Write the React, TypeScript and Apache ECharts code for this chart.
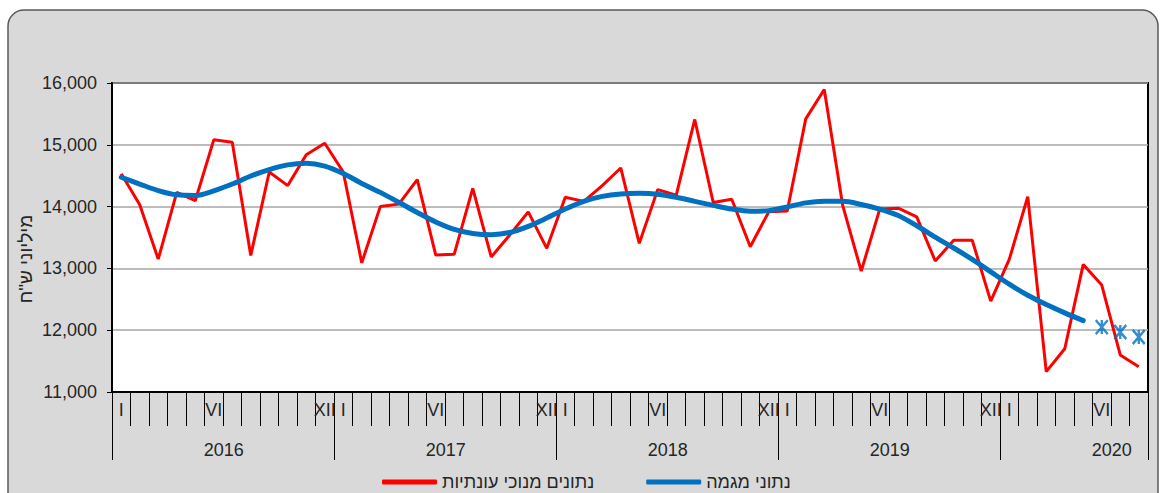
import React, { useEffect, useRef } from "react";
import * as echarts from "echarts";

const years = ["2016", "2017", "2018", "2019", "2020"];
const romanMonths = ["I", "", "", "", "", "VI", "", "", "", "", "", "XII"];
const monthsInLastYear = 8;

// seasonally adjusted data (Jan 2016 – Aug 2020), NIS millions
const seasonallyAdjusted = [
  14530, 14030, 13150, 14230, 14095, 15080, 15040, 13210, 14560, 14340, 14840, 15025,
  14560, 13090, 14000, 14040, 14435, 13215, 13230, 14295, 13185, 13540, 13915, 13325,
  14150, 14085, 14340, 14625, 13405, 14275, 14185, 15410, 14065, 14120, 13350, 13915,
  13930, 15420, 15895, 14015, 12955, 13960, 13975, 13835, 13120, 13455, 13455, 12470,
  13145, 14160, 11330, 11700, 13065, 12730, 11600, 11410,
];

// trend data (Jan 2016 – May 2020)
const trend = [
  14475, 14365, 14260, 14190, 14180, 14255, 14365, 14495, 14600, 14675, 14700, 14655,
  14535, 14375, 14230, 14070, 13905, 13750, 13630, 13565, 13545, 13580, 13680, 13815,
  13960, 14085, 14165, 14205, 14215, 14200, 14150, 14085, 14020, 13960, 13925, 13935,
  13995, 14060, 14085, 14085, 14035, 13960, 13855, 13690, 13505, 13330, 13145, 12945,
  12745, 12565, 12415, 12280, 12155,
];

// preliminary trend (Jun – Aug 2020)
const prelimMonths = ["2020-06", "2020-07", "2020-08"];
const prelimTrend = [12050, 11970, 11890];

const seriesNames = ["נתונים מנוכי עונתיות", "נתוני מגמה"];
const yAxisTitle = "מיליוני ש\"ח";

const categories: string[] = [];
years.forEach((y, yi) => {
  const n = yi === years.length - 1 ? monthsInLastYear : 12;
  for (let m = 0; m < n; m++) categories.push(`${y}-${String(m + 1).padStart(2, "0")}`);
});

const FONT = "'Liberation Sans', Arial, sans-serif";
const TEXT = "#262626";

export default function App() {
  const ref = useRef<HTMLDivElement>(null);
  useEffect(() => {
    if (!ref.current) return;
    const chart = echarts.init(ref.current, undefined, { renderer: "svg" });
    const asterisk = "path://M0 0L12 14M12 0L0 14M6 0L6 14";
    chart.setOption({
      animation: false,
      backgroundColor: "#ffffff",
      textStyle: { fontFamily: FONT },
      graphic: [
        {
          type: "rect",
          z: -10,
          shape: { x: 8, y: 10, width: 1150, height: 530, r: 16 },
          style: { fill: "#d9d9d9", stroke: "#595959", lineWidth: 1.5 },
        },
        {
          type: "text",
          x: 25,
          y: 259,
          rotation: Math.PI / 2,
          style: {
            text: yAxisTitle,
            fill: TEXT,
            font: `19px ${FONT}`,
            align: "center",
            verticalAlign: "middle",
          },
        },
      ],
      grid: {
        left: 112,
        right: 13,
        top: 83,
        bottom: 101,
        show: true,
        backgroundColor: "#ffffff",
        borderColor: "#000000",
        borderWidth: 2,
      },
      legend: {
        data: seriesNames,
        left: 377,
        top: 468,
        itemWidth: 55,
        itemHeight: 5,
        itemGap: 52,
        icon: "roundRect",
        textStyle: { fontSize: 18, color: TEXT, fontFamily: FONT },
      },
      xAxis: [
        {
          type: "category",
          data: categories,
          position: "bottom",
          boundaryGap: true,
          axisLine: { show: true, lineStyle: { color: "#000", width: 2 } },
          axisTick: { show: true, interval: 0, length: 34, lineStyle: { color: "#000", width: 1 } },
          axisLabel: {
            interval: 0,
            margin: 9,
            fontSize: 18,
            color: TEXT,
            formatter: (_v: string, i: number) => romanMonths[i % 12],
          },
          splitLine: { show: false },
        },
        {
          type: "category",
          data: categories,
          position: "bottom",
          boundaryGap: true,
          axisLine: { show: false },
          axisTick: {
            show: true,
            interval: (i: number) => i % 12 === 0,
            length: 68,
            lineStyle: { color: "#000", width: 1 },
          },
          axisLabel: {
            interval: (i: number) => i % 12 === 5,
            margin: 49,
            fontSize: 18,
            color: TEXT,
            padding: [0, 0, 0, 20],
            formatter: (_v: string, i: number) => years[Math.floor(i / 12)],
          },
          splitLine: { show: false },
        },
      ],
      yAxis: {
        type: "value",
        min: 11000,
        max: 16000,
        interval: 1000,
        axisLine: { show: true, lineStyle: { color: "#000", width: 2 } },
        axisTick: { show: true, length: 5, lineStyle: { color: "#000" } },
        axisLabel: {
          margin: 15,
          fontSize: 18,
          color: TEXT,
          formatter: (v: number) => v.toLocaleString("en-US"),
        },
        splitLine: { show: true, lineStyle: { color: "#a6a6a6", width: 1.5 } },
      },
      series: [
        {
          name: seriesNames[0],
          type: "line",
          data: seasonallyAdjusted,
          symbol: "none",
          lineStyle: { color: "#ff0000", width: 3 },
          itemStyle: { color: "#ff0000" },
          z: 2,
        },
        {
          name: seriesNames[1],
          type: "line",
          data: trend,
          symbol: "none",
          smooth: 0.3,
          lineStyle: { color: "#0070c0", width: 5, cap: "round" },
          itemStyle: { color: "#0070c0" },
          z: 3,
        },
        {
          name: "prelim",
          type: "scatter",
          data: prelimMonths.map((m, k) => [m, prelimTrend[k]]),
          symbol: asterisk,
          symbolSize: [12, 14],
          itemStyle: { color: "transparent", borderColor: "#0070c0", borderWidth: 2.5 },
          z: 4,
        },
      ],
    });
    return () => chart.dispose();
  }, []);
  return (
    <div
      ref={ref}
      style={{ position: "absolute", left: 0, top: 0, width: 1161, height: 493 }}
    />
  );
}
